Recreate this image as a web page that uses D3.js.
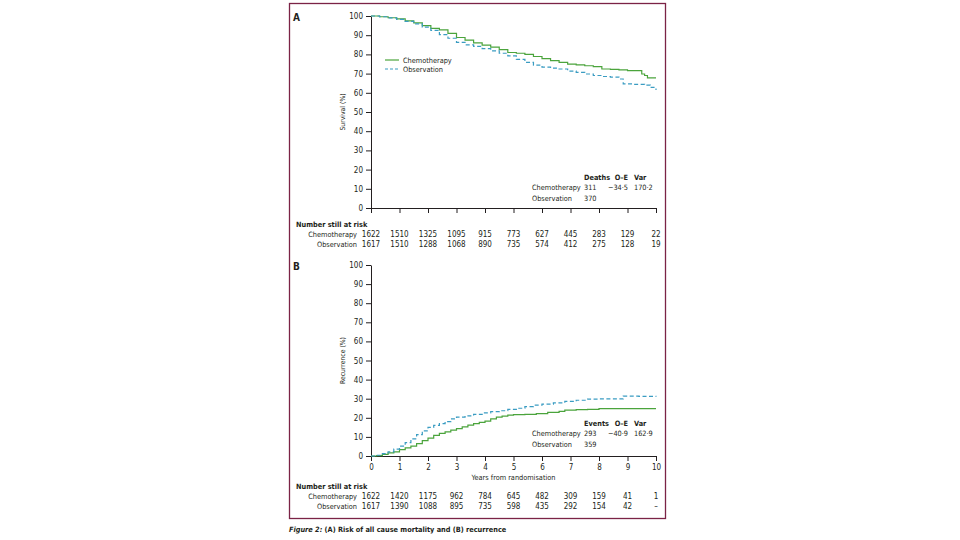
<!DOCTYPE html>
<html lang="en">
<head>
<meta charset="utf-8">
<title>Figure 2</title>
<script src="https://d3js.org/d3.v7.min.js"></script>
<style>
  body { margin: 0; background: #fff; }
  svg { display: block; }
  text { font-family: "Liberation Sans Narrow", "DejaVu Sans Condensed", "Open Sans", sans-serif; fill: #231f20; }
  .tick text { font-size: 8px; }
  .axis path, .axis line { stroke: #231f20; stroke-width: 1; }
</style>
</head>
<body>
<div id="chart"></div>
<script>
// data
var years = [0, 1, 2, 3, 4, 5, 6, 7, 8, 9, 10];
var yTicks = [0, 10, 20, 30, 40, 50, 60, 70, 80, 90, 100];
var groups = ["Chemotherapy", "Observation"];

// (A) survival, %
var survChemoT = [0, 0.3, 0.6, 0.9, 1.2, 1.5, 1.8, 2.1, 2.4, 2.7, 3.0, 3.3, 3.6, 3.9, 4.2, 4.5, 4.8, 5.1, 5.4, 5.7, 6.0, 6.3, 6.6, 6.9, 7.2, 7.5, 7.8, 8.1, 8.4, 8.7, 9.0, 9.3, 9.5, 9.6, 9.7, 10.0];
var survChemoV = [100, 99.6, 99.1, 98.5, 97.5, 96.4, 95.0, 93.6, 92.8, 91.0, 88.8, 87.4, 86.0, 84.8, 83.8, 82.5, 81.0, 80.6, 80.0, 78.9, 77.8, 76.8, 75.8, 74.9, 74.5, 74.1, 73.6, 72.4, 72.2, 71.9, 71.6, 71.5, 69.8, 69.0, 67.8, 67.8];
var survObsT = [0, 0.3, 0.6, 0.9, 1.2, 1.5, 1.8, 2.1, 2.4, 2.7, 3.0, 3.3, 3.6, 3.9, 4.2, 4.5, 4.8, 5.1, 5.4, 5.7, 6.0, 6.3, 6.6, 6.9, 7.2, 7.5, 7.8, 8.1, 8.4, 8.7, 8.85, 9.2, 9.6, 9.8, 10.0];
var survObsV = [100, 99.6, 99.0, 98.2, 97.2, 95.9, 94.2, 92.5, 90.3, 88.4, 86.3, 85.0, 84.2, 83.0, 81.8, 80.6, 79.2, 77.4, 75.8, 74.4, 73.4, 72.9, 72.4, 71.3, 70.6, 69.8, 69.0, 68.5, 68.2, 67.2, 64.6, 64.4, 64.0, 62.8, 61.5];

// (B) recurrence, %
var recChemoT = [0, 0.2, 0.4, 0.6, 0.8, 1.0, 1.2, 1.4, 1.6, 1.8, 2.0, 2.2, 2.4, 2.6, 2.8, 3.0, 3.2, 3.4, 3.6, 3.8, 4.0, 4.2, 4.4, 4.6, 4.8, 5.0, 5.4, 5.8, 6.2, 6.6, 6.8, 7.2, 7.6, 8.0, 10.0];
var recChemoV = [0, 0.2, 0.8, 1.6, 2.2, 3.3, 4.3, 5.2, 6.5, 8.0, 9.4, 10.8, 11.8, 12.6, 13.5, 14.3, 15.3, 16.2, 16.9, 17.6, 18.3, 19.4, 20.4, 20.9, 21.4, 21.7, 21.8, 22.2, 22.8, 23.4, 24.0, 24.3, 24.4, 24.8, 24.8];
var recObsT = [0, 0.2, 0.4, 0.6, 0.8, 1.0, 1.2, 1.4, 1.6, 1.8, 2.0, 2.2, 2.4, 2.6, 2.8, 3.0, 3.3, 3.6, 3.9, 4.2, 4.5, 4.8, 5.1, 5.4, 5.7, 6.0, 6.4, 6.8, 7.2, 7.6, 8.0, 8.85, 9.4, 10.0];
var recObsV = [0, 0.4, 1.2, 2.2, 3.6, 5.2, 7.0, 9.0, 11.2, 13.2, 15.0, 16.0, 17.0, 18.0, 19.4, 20.4, 21.0, 21.8, 22.6, 23.2, 23.7, 24.4, 25.0, 25.9, 26.6, 27.2, 27.8, 28.6, 29.2, 29.8, 29.9, 31.3, 31.2, 31.0];

// numbers at risk
var riskA_chemo = ["1622", "1510", "1325", "1095", "915", "773", "627", "445", "283", "129", "22"];
var riskA_obs = ["1617", "1510", "1288", "1068", "890", "735", "574", "412", "275", "128", "19"];
var riskB_chemo = ["1622", "1420", "1175", "962", "784", "645", "482", "309", "159", "41", "1"];
var riskB_obs = ["1617", "1390", "1088", "895", "735", "598", "435", "292", "154", "42", "–"];

// summary tables
var statsA_head = ["Deaths", "O–E", "Var"];
var statsA_chemo = ["311", "−34·5", "170·2"];
var statsA_obs = ["370", "", ""];
var statsB_head = ["Events", "O–E", "Var"];
var statsB_chemo = ["293", "−40·9", "162·9"];
var statsB_obs = ["359", "", ""];

var W = 960, H = 540;
var green = "#4ba43c", blue = "#3a9cc2";
var fs = "7.3px";

var svg = d3.select("#chart").append("svg")
  .attr("width", W).attr("height", H);

// frame
svg.append("rect")
  .attr("x", 289.5).attr("y", 3.5)
  .attr("width", 376).attr("height", 515)
  .attr("fill", "none")
  .attr("stroke", "#7b2346")
  .attr("stroke-width", 1.3);

var xScale = d3.scaleLinear().domain([0, 10]).range([371, 656]);

function zip(t, v) {
  return t.map(function(d, i) { return {t: d, v: v[i]}; });
}

function drawPanel(p) {
  var yScale = d3.scaleLinear().domain([0, 100]).range([p.bottom, p.top]);
  var g = svg.append("g");

  g.append("text")
    .attr("x", 293).attr("y", p.top + 1).attr("dy", "0.35em")
    .style("font-size", "10px").style("font-weight", "bold")
    .text(p.letter);

  var yAxis = d3.axisLeft(yScale).tickValues(yTicks).tickSize(5).tickSizeOuter(0).tickPadding(3);
  g.append("g").attr("class", "axis")
    .attr("transform", "translate(" + xScale(0) + ",0)")
    .call(yAxis);

  var xAxis = d3.axisBottom(xScale).tickValues(years).tickSize(5).tickSizeOuter(0).tickPadding(3);
  if (!p.xLabels) xAxis.tickFormat("");
  g.append("g").attr("class", "axis")
    .attr("transform", "translate(0," + yScale(0) + ")")
    .call(xAxis);
  g.selectAll(".axis .domain").attr("stroke", "#231f20");

  g.append("text")
    .attr("transform", "translate(343," + (p.top + p.bottom) / 2 + ") rotate(-90)")
    .attr("text-anchor", "middle").attr("dy", "0.35em")
    .style("font-size", "6.8px")
    .text(p.yTitle);

  if (p.xTitle) {
    g.append("text")
      .attr("x", xScale(5)).attr("y", p.bottom + 21).attr("dy", "0.35em")
      .attr("text-anchor", "middle").style("font-size", fs)
      .text(p.xTitle);
  }

  var line = d3.line()
    .x(function(d) { return xScale(d.t); })
    .y(function(d) { return yScale(d.v); })
    .curve(d3.curveStepAfter);

  g.append("path").datum(p.chemo)
    .attr("d", line).attr("fill", "none")
    .attr("stroke", green).attr("stroke-width", 1.2);
  g.append("path").datum(p.obs)
    .attr("d", line).attr("fill", "none")
    .attr("stroke", blue).attr("stroke-width", 1.2)
    .attr("stroke-dasharray", "4,2.5");

  // summary table
  var sy = p.statsY;
  var cols = [{x: 584, a: "start"}, {x: 628, a: "end"}, {x: 634, a: "start"}];
  var rows = [
    {label: "", vals: p.statsHead, bold: true},
    {label: groups[0], vals: p.statsChemo},
    {label: groups[1], vals: p.statsObs}
  ];
  rows.forEach(function(r, ri) {
    var yy = sy + ri * 10.5;
    g.append("text").attr("x", 532).attr("y", yy).attr("dy", "0.35em")
      .style("font-size", fs).text(r.label);
    r.vals.forEach(function(v, ci) {
      g.append("text").attr("x", cols[ci].x).attr("y", yy).attr("dy", "0.35em")
        .attr("text-anchor", cols[ci].a)
        .style("font-size", fs)
        .style("font-weight", r.bold ? "bold" : "normal")
        .text(v);
    });
  });

  // numbers at risk
  g.append("text").attr("x", 296).attr("y", p.riskY).attr("dy", "0.35em")
    .style("font-size", fs).style("font-weight", "bold")
    .text("Number still at risk");
  [p.riskChemo, p.riskObs].forEach(function(arr, ri) {
    var yy = p.riskY + 10 + ri * 10.5;
    g.append("text").attr("x", 357).attr("y", yy).attr("dy", "0.35em")
      .attr("text-anchor", "end").style("font-size", fs)
      .text(groups[ri]);
    g.selectAll(null).data(arr).enter().append("text")
      .attr("x", function(d, i) { return xScale(years[i]); })
      .attr("y", yy).attr("dy", "0.35em")
      .attr("text-anchor", "middle").style("font-size", "8px")
      .text(function(d) { return d; });
  });

  return g;
}

var gA = drawPanel({
  letter: "A", top: 16, bottom: 208, xLabels: false,
  yTitle: "Survival (%)",
  chemo: zip(survChemoT, survChemoV), obs: zip(survObsT, survObsV),
  statsY: 177, statsHead: statsA_head, statsChemo: statsA_chemo, statsObs: statsA_obs,
  riskY: 224, riskChemo: riskA_chemo, riskObs: riskA_obs
});

drawPanel({
  letter: "B", top: 265, bottom: 456, xLabels: true,
  yTitle: "Recurrence (%)", xTitle: "Years from randomisation",
  chemo: zip(recChemoT, recChemoV), obs: zip(recObsT, recObsV),
  statsY: 423, statsHead: statsB_head, statsChemo: statsB_chemo, statsObs: statsB_obs,
  riskY: 486, riskChemo: riskB_chemo, riskObs: riskB_obs
});

// legend in panel A
var legend = gA.append("g").selectAll("g")
  .data(groups).enter().append("g")
  .attr("transform", function(d, i) { return "translate(385," + (60 + i * 9) + ")"; });
legend.append("line")
  .attr("x1", 0).attr("x2", 14)
  .attr("stroke", function(d, i) { return i ? blue : green; })
  .attr("stroke-width", 1.2)
  .attr("stroke-dasharray", function(d, i) { return i ? "3,2" : null; });
legend.append("text")
  .attr("x", 18).attr("dy", "0.35em").style("font-size", fs)
  .text(function(d) { return d; });

// caption
var cap = svg.append("text").attr("x", 289).attr("y", 529).attr("dy", "0.35em")
  .style("font-size", "7.3px");
cap.append("tspan").style("font-style", "italic").style("font-weight", "bold").text("Figure 2: ");
cap.append("tspan").attr("fill", "#231f20").style("font-weight", "600").text("(A) Risk of all cause mortality and (B) recurrence");
</script>
</body>
</html>
